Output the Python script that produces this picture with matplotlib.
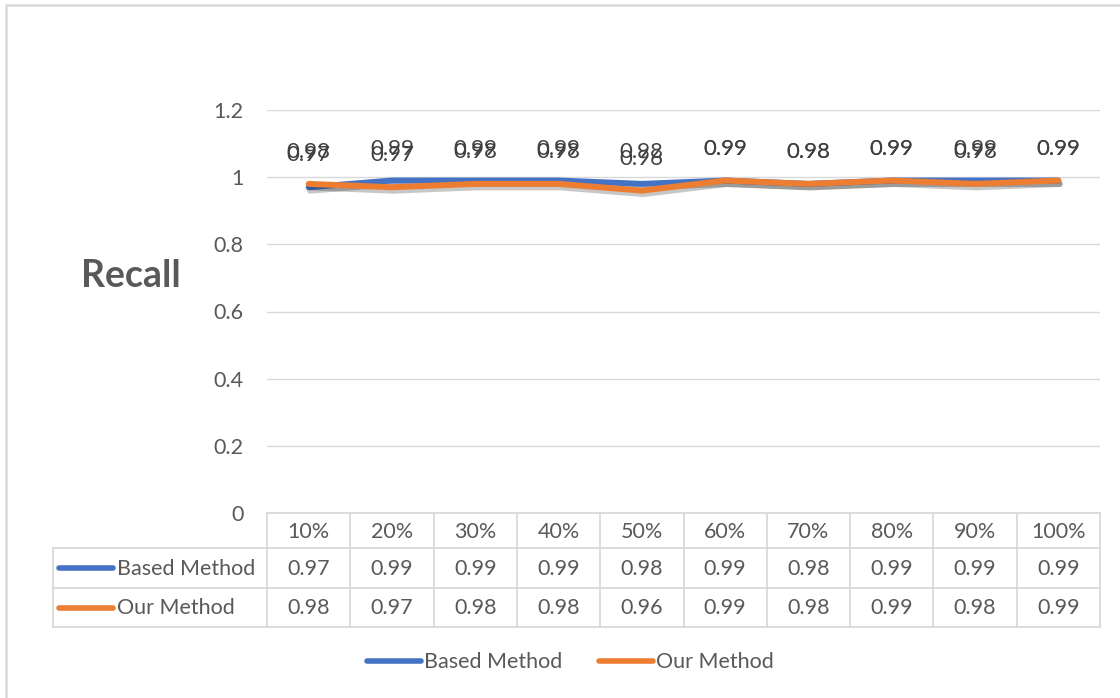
import numpy as np
import matplotlib
matplotlib.use("Agg")
import matplotlib.pyplot as plt
import matplotlib.patheffects as pe
from matplotlib.lines import Line2D

plt.rcParams['font.family'] = ['Lato', 'DejaVu Sans']

categories = ['10%', '20%', '30%', '40%', '50%', '60%', '70%', '80%', '90%', '100%']
based_method = [0.97, 0.99, 0.99, 0.99, 0.98, 0.99, 0.98, 0.99, 0.99, 0.99]
our_method = [0.98, 0.97, 0.98, 0.98, 0.96, 0.99, 0.98, 0.99, 0.98, 0.99]
y_ticks = [0, 0.2, 0.4, 0.6, 0.8, 1, 1.2]

BLUE = '#4472C4'
ORANGE = '#ED7D31'
TXT = '#595959'
LBL = '#404040'
GRID = '#D9D9D9'
FS = 15.5

W, H = 1120, 698
fig = plt.figure(figsize=(W / 100, H / 100), dpi=100)


def fx(px):
    return px / W


def fy(py):
    return 1 - py / H


# plot area
left, right, top, bottom = 267, 1100, 110, 513
ax = fig.add_axes([fx(left), fy(bottom), fx(right - left), fy(top) - fy(bottom)])
ax.set_xlim(-0.5, len(categories) - 0.5)
ax.set_ylim(0, 1.2)
ax.set_yticks(y_ticks)
ax.set_yticklabels([f'{t:g}' for t in y_ticks], fontsize=FS, color=TXT)
ax.tick_params(axis='y', length=0, pad=17)
ax.set_xticks([])
for s in ax.spines.values():
    s.set_visible(False)
ax.grid(axis='y', color=GRID, linewidth=1)
ax.set_axisbelow(True)

x = np.arange(len(categories))
shadow = [pe.SimpleLineShadow(offset=(1, -2.5), shadow_color='black', alpha=0.22, rho=0.5), pe.Normal()]
ax.plot(x, based_method, color=BLUE, lw=4.3, solid_capstyle='round', solid_joinstyle='round',
        path_effects=shadow, zorder=3)
ax.plot(x, our_method, color=ORANGE, lw=4.3, solid_capstyle='round', solid_joinstyle='round',
        path_effects=shadow, zorder=4)

for xi, b, o in zip(x, based_method, our_method):
    ax.annotate(f'{b:.2f}', (xi, b), xytext=(0, 23), textcoords='offset points',
                ha='center', va='center', fontsize=16, color=LBL, zorder=5)
    ax.annotate(f'{o:.2f}', (xi, o), xytext=(0, 23), textcoords='offset points',
                ha='center', va='center', fontsize=16, color=LBL, zorder=5)

# y axis title
fig.text(fx(131), fy(276), 'Recall', fontsize=27, fontweight='bold', color=TXT,
         ha='center', va='center')

# data table
col_w = (right - left) / len(categories)
row_y = [513, 548, 588, 627]
tbl_left = 53


def hline(x0, x1, y):
    fig.add_artist(Line2D([fx(x0), fx(x1)], [fy(y), fy(y)], color=GRID, lw=1.3))


def vline(x0, y0, y1):
    fig.add_artist(Line2D([fx(x0), fx(x0)], [fy(y0), fy(y1)], color=GRID, lw=1.3))


hline(left, right, row_y[0])
for y in row_y[1:]:
    hline(tbl_left, right, y)
vline(tbl_left, row_y[1], row_y[3])
for i in range(len(categories) + 1):
    vline(left + i * col_w, row_y[0], row_y[3])

for i, c in enumerate(categories):
    cx = left + (i + 0.5) * col_w
    fig.text(fx(cx), fy((row_y[0] + row_y[1]) / 2 + 1), c, ha='center', va='center',
             fontsize=FS, color=TXT)
    fig.text(fx(cx), fy((row_y[1] + row_y[2]) / 2 + 1), f'{based_method[i]:.2f}', ha='center',
             va='center', fontsize=FS, color=TXT)
    fig.text(fx(cx), fy((row_y[2] + row_y[3]) / 2 + 1), f'{our_method[i]:.2f}', ha='center',
             va='center', fontsize=FS, color=TXT)

for r, (name, col) in enumerate([('Based Method', BLUE), ('Our Method', ORANGE)]):
    cy = (row_y[r + 1] + row_y[r + 2]) / 2
    fig.add_artist(Line2D([fx(59), fx(113)], [fy(cy), fy(cy)], color=col, lw=4,
                          solid_capstyle='round'))
    fig.text(fx(117), fy(cy + 1), name, ha='left', va='center', fontsize=FS, color=TXT)

# legend
for x0, name, col in [(367, 'Based Method', BLUE), (599, 'Our Method', ORANGE)]:
    fig.add_artist(Line2D([fx(x0), fx(x0 + 54)], [fy(661), fy(661)], color=col, lw=4,
                          solid_capstyle='round'))
    fig.text(fx(x0 + 57), fy(662), name, ha='left', va='center', fontsize=FS, color=TXT)

# chart border
fig.add_artist(Line2D([fx(6), fx(6), fx(W)], [fy(H), fy(4.5), fy(4.5)], color='#D9D9D9', lw=1.8))

fig.savefig('out.png', dpi=100)
